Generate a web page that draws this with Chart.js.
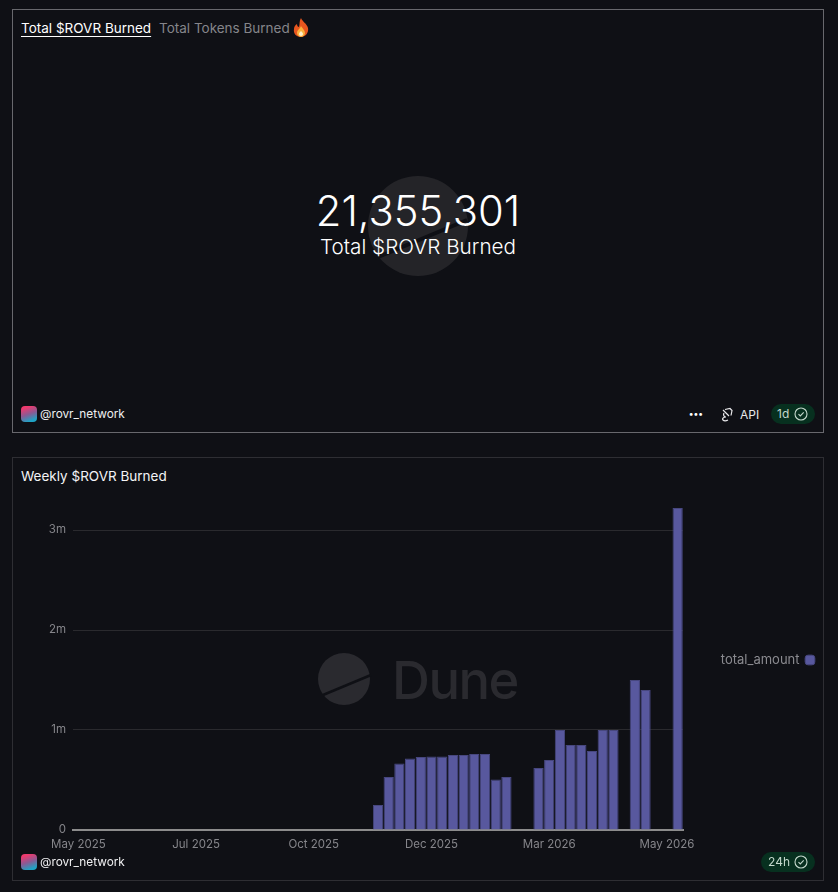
<!DOCTYPE html>
<html>
<head>
<meta charset="utf-8">
<title>ROVR burned</title>
<script src="https://cdn.jsdelivr.net/npm/chart.js@4"></script>
<style>
  html, body { margin: 0; padding: 0; background: #0f1015; overflow: hidden; }
  body { width: 838px; height: 892px; position: relative; font-family: Inter, sans-serif; color: #fff; }
  .card { position: absolute; left: 12px; width: 810px; height: 422px; border: 1px solid #2e2e33; }
  .abs { position: absolute; white-space: nowrap; }
  .avatar { width: 16px; height: 16px; border-radius: 4px; background: linear-gradient(160deg, #ee3a6e 15%, #8a5a94 50%, #1fa3c4 85%); }
  .handle { font-size: 11.8px; color: #f0f0f2; }
  .badge { height: 20px; border-radius: 10px; background: #07301f; color: #c4d8cc; font-size: 12px; line-height: 20px; }
</style>
</head>
<body>

<!-- top counter card -->
<div class="card" style="top:9px; border-color:#68686d"></div>
<div class="abs" style="left:21px; top:20px; font-size:13.5px; text-decoration:underline; text-underline-offset:3px">Total $ROVR Burned</div>
<div class="abs" style="left:159px; top:20px; font-size:13.5px; color:#85858a">Total Tokens Burned</div>
<svg class="abs" style="left:292px; top:18px" width="18" height="19" viewBox="0 0 18 19">
  <path d="M9 0c1 3 6 6 7 10 1 5-3 9-7 9s-8-3-7-8c0-2 1-4 3-5 0 2 1 3 2 3C8 6 7 3 9 0z" fill="#e8561f"/>
  <path d="M9 8c1 2 4 4 4 7 0 2-2 4-4 4s-4-2-4-4c0-3 3-4 4-7z" fill="#fbb13c"/>
  <path d="M9 13c1 1 2 2 2 3s-1 2-2 2-2-1-2-2 1-2 2-3z" fill="#fff0c8"/>
</svg>
<svg class="abs" style="left:368px; top:176px" width="100" height="100" viewBox="0 0 100 100">
  <circle cx="50" cy="50" r="50" fill="#242428"/>
  <path d="M10 81 L99 44" stroke="#0f1015" stroke-width="4"/>
</svg>
<div class="abs" style="left:0; width:836px; top:185px; text-align:center; font-size:41.7px; font-weight:300; line-height:52px">21,355,301</div>
<div class="abs" style="left:0; width:836px; top:234px; text-align:center; font-size:20.7px; font-weight:300; line-height:26px">Total $ROVR Burned</div>

<div class="abs avatar" style="left:21px; top:406px"></div>
<div class="abs handle" style="left:40px; top:407px">@rovr_network</div>
<div class="abs" style="left:689px; top:408px; font-size:9px; font-weight:700; letter-spacing:0.5px">•••</div>
<svg class="abs" style="left:720px; top:406px" width="15" height="16" viewBox="0 0 15 16" fill="none" stroke="#e8e8ea" stroke-width="1.2">
  <path d="M3 4l6 6M5 3.5l5-1 2 2-1 5M4 7c-1 2 0 4 2 4M6 11c-3 0-4 2-3 3s3 1 5 0"/>
</svg>
<div class="abs" style="left:740px; top:407px; font-size:12px; color:#e8e8ea">API</div>
<div class="abs badge" style="left:771px; top:404px; width:44px"><span style="margin-left:6px">1d</span></div>
<svg class="abs" style="left:794px; top:407px" width="14" height="14" viewBox="0 0 14 14" fill="none" stroke="#c4d8cc" stroke-width="1.1">
  <circle cx="7" cy="7" r="6"/><path d="M4.5 7.2l1.8 1.8 3.4-3.6"/>
</svg>

<!-- bottom chart card -->
<div class="card" style="top:457px"></div>
<div class="abs" style="left:21px; top:468px; font-size:13.5px; color:#f4f4f6">Weekly $ROVR Burned</div>

<!-- Dune watermark sits behind the canvas -->
<svg class="abs" style="left:318px; top:653px" width="54" height="52" viewBox="0 0 54 52">
  <circle cx="26" cy="26" r="26" fill="#2a2a2f"/>
  <path d="M5 42 L53 22" stroke="#0f1015" stroke-width="2.5"/>
</svg>
<div class="abs" style="left:392px; top:647px; font-size:52.5px; line-height:66px; font-weight:500; color:#2a2a2f; letter-spacing:-1.5px">Dune</div>

<div class="abs" style="left:13px; top:490px; width:809px; height:365px">
  <canvas id="chart"></canvas>
</div>

<div class="abs avatar" style="left:21px; top:854px"></div>
<div class="abs handle" style="left:40px; top:855px">@rovr_network</div>
<div class="abs badge" style="left:761px; top:852px; width:54px"><span style="margin-left:7px">24h</span></div>
<svg class="abs" style="left:794px; top:855px" width="14" height="14" viewBox="0 0 14 14" fill="none" stroke="#c4d8cc" stroke-width="1.1">
  <circle cx="7" cy="7" r="6"/><path d="M4.5 7.2l1.8 1.8 3.4-3.6"/>
</svg>

<script>
// weeks on the x axis
const weeks = [
    '2025-05-05','2025-05-12','2025-05-19','2025-05-26','2025-06-02','2025-06-09','2025-06-16','2025-06-23',
    '2025-06-30','2025-07-07','2025-07-14','2025-07-21','2025-07-28','2025-08-04','2025-08-11','2025-08-18',
    '2025-08-25','2025-09-01','2025-09-08','2025-09-15','2025-09-22','2025-09-29','2025-10-06','2025-10-13',
    '2025-10-20','2025-10-27','2025-11-03','2025-11-10','2025-11-17','2025-11-24','2025-12-01','2025-12-08',
    '2025-12-15','2025-12-22','2025-12-29','2026-01-05','2026-01-12','2026-01-19','2026-01-26','2026-02-02',
    '2026-02-09','2026-02-16','2026-02-23','2026-03-02','2026-03-09','2026-03-16','2026-03-23','2026-03-30',
    '2026-04-06','2026-04-13','2026-04-20','2026-04-27','2026-05-04','2026-05-11','2026-05-18','2026-05-25',
    '2026-06-01'
];

// weekly burn
const totalAmount = [
    0, 0, 0, 0, 0, 0, 0, 0, 0, 0, 0, 0, 0, 0,
    0, 0, 0, 0, 0, 0, 0, 0, 0, 0, 0, 0, 0, 0,
    250000, 530000, 665000, 715000, 730000, 735000, 735000, 750000, 750000, 760000, 760000, 505000, 530000,
    0, 0,
    620000, 700000, 1000000, 850000, 850000, 790000, 1000000, 1000000,
    0,
    1500000, 1400000,
    0, 0,
    3220000
];

// shown every 11 weeks
const xTickLabels = ['May 2025', 'Jul 2025', 'Oct 2025', 'Dec 2025', 'Mar 2026', 'May 2026'];
const yTickValues = [0, 1000000, 2000000, 3000000];
const yTickLabels = ['0', '1m', '2m', '3m'];

const tickFont = { family: 'Inter, sans-serif', size: 11.5 };

// keeps the legend column wide so the plot ends where the reference does
const legendWidth = {
    id: 'legendWidth',
    beforeLayout(chart) {
        const legend = chart.legend;
        if (legend.fitWide) return;
        const fit = legend.fit;
        legend.fit = function () {
            fit.call(this);
            this.width = 139;
        };
        legend.fitWide = true;
    }
};

// draws weekly bar chart
new Chart(document.getElementById('chart'), {
    type: 'bar',
    plugins: [legendWidth],
    data: {
        labels: weeks,
        datasets: [{
            label: 'total_amount',
            data: totalAmount,
            backgroundColor: '#58589e',
            borderColor: '#47477f',
            borderWidth: 1,
            categoryPercentage: 1,
            barPercentage: 0.96
        }]
    },
    options: {
        responsive: true,
        maintainAspectRatio: false,
        animation: false,
        layout: { padding: 0 },
        plugins: {
            tooltip: { enabled: false },
            legend: {
                position: 'right',
                fullSize: false,
                rtl: true,
                labels: {
                    usePointStyle: true,
                    pointStyle: 'rectRounded',
                    boxWidth: 8,
                    boxHeight: 8,
                    padding: 8,
                    color: '#8a8a8f',
                    font: { family: 'Inter, sans-serif', size: 13 }
                }
            }
        },
        scales: {
            x: {
                grid: { display: false, drawTicks: false },
                border: { display: true, color: '#8c8c8c', width: 2 },
                afterFit: (scale) => {
                    scale.height = 25;
                    scale.paddingLeft = 0;
                    scale.paddingRight = 0;
                },
                ticks: {
                    autoSkip: false,
                    maxRotation: 0,
                    color: '#85858a',
                    font: tickFont,
                    padding: 8,
                    callback: (value, index) => index % 11 === 0 ? xTickLabels[index / 11] : null
                }
            },
            y: {
                min: 0,
                max: 3400000,
                grid: { color: '#2a2a2e', lineWidth: 1, drawTicks: false },
                border: { display: false },
                afterBuildTicks: (scale) => {
                    scale.ticks = yTickValues.map((value) => ({ value }));
                },
                afterFit: (scale) => {
                    scale.width = 60;
                    scale.paddingTop = 0;
                    scale.paddingBottom = 0;
                },
                ticks: {
                    autoSkip: false,
                    color: '#85858a',
                    font: tickFont,
                    padding: 7,
                    callback: (value) => yTickLabels[yTickValues.indexOf(value)]
                }
            }
        }
    }
});
</script>
</body>
</html>
